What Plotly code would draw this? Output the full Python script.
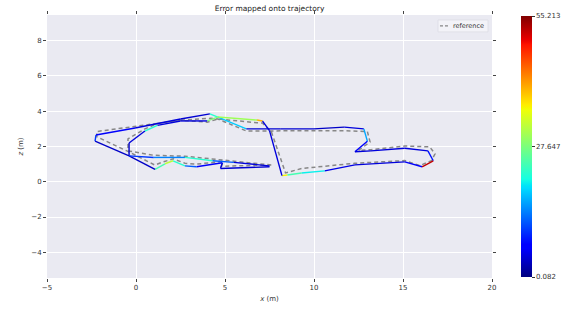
import plotly.graph_objects as go

# ---------------- data ----------------
traj_x = [7.5, 4.75, 4.85, 3.4, 2.75, 2.08, 1.63, 1.07, -0.39, -2.3, -2.25, -0.05, 2.5, 4.15,
          4.6, 6.2, 8.1, 10.0, 11.7, 12.8, 13.0, 12.3, 13.2, 15.1, 16.4, 16.7, 16.07, 15.1,
          12.3, 10.6, 9.3, 8.5, 8.2, 7.5, 7.1, 6.8, 4.6, 4.0, 2.5, 1.2, 0.5, -0.39, -0.39,
          1.0, 2.75, 4.3, 5.5, 7.5]
traj_z = [0.85, 0.75, 1.08, 0.85, 0.9, 1.19, 1.02, 0.7, 1.47, 2.3, 2.65, 3.05, 3.56, 3.85,
          3.67, 3.0, 3.0, 3.0, 3.1, 3.0, 2.3, 1.7, 1.75, 1.9, 1.75, 1.19, 0.85, 1.13,
          0.96, 0.62, 0.5, 0.38, 0.35, 2.9, 3.45, 3.5, 3.67, 3.45, 3.45, 3.2, 2.88, 2.2, 1.47,
          1.38, 1.38, 1.19, 1.1, 0.9]
# error of each segment (segment i goes from point i to point i+1)
seg_error = [4, 4, 6, 12, 22, 32, 24, 3.5, 3.5, 10, 6, 4.5, 4, 22,
             18, 4, 4, 3.5, 4.5, 16, 7, 4.5, 4.5, 4.5, 8, 52, 6,
             4.5, 5, 20, 24, 36, 4.5, 4.5, 40, 30, 28, 4.5, 4.5, 22, 4.5, 3.5,
             10, 14, 22, 12, 4.5]

ref_x = [7.6, 4.8, 4.9, 3.4, 2.75, 2.1, 1.6, 1.05, -0.45, -2.2, -2.2, 0.0, 2.6, 4.2,
         4.6, 6.2, 8.1, 10.0, 11.7, 13.0, 13.15, 12.5, 13.2, 15.1, 16.5, 16.8, 16.6, 15.95,
         15.1, 12.3, 10.6, 9.3, 8.4, 7.6, 7.1, 6.8, 4.6, 4.0, 2.5, 1.2, 0.5, -0.45, -0.45,
         1.0, 2.75, 4.3, 5.5, 7.6]
ref_z = [0.95, 0.88, 1.15, 1.0, 1.05, 1.3, 1.15, 0.95, 1.72, 2.55, 2.85, 3.15, 3.5, 3.6,
         3.56, 2.88, 2.88, 2.88, 2.9, 2.85, 2.26, 1.78, 1.82, 2.03, 1.98, 1.58, 1.2, 0.92,
         1.2, 1.05, 0.9, 0.75, 0.5, 2.85, 3.33, 3.35, 3.56, 3.38, 3.5, 3.3, 3.0, 2.43, 1.75,
         1.5, 1.45, 1.3, 1.15, 0.95]

err_min, err_max = 0.082, 55.213
cbar_ticks = [0.082, 27.647, 55.213]
x_ticks = [-5, 0, 5, 10, 15, 20]
y_ticks = [-4, -2, 0, 2, 4, 6, 8]
legend_label = "reference"

# ---------------- matplotlib "jet" colormap ----------------
_jet = {
    "r": [(0, 0), (0.35, 0), (0.66, 1), (0.89, 1), (1, 0.5)],
    "g": [(0, 0), (0.125, 0), (0.375, 1), (0.64, 1), (0.91, 0), (1, 0)],
    "b": [(0, 0.5), (0.11, 1), (0.34, 1), (0.65, 0), (1, 0)],
}


def _interp(pts, t):
    for (t0, v0), (t1, v1) in zip(pts[:-1], pts[1:]):
        if t0 <= t <= t1:
            return v0 + (v1 - v0) * (t - t0) / (t1 - t0) if t1 > t0 else v1
    return pts[-1][1]


def jet(t):
    t = min(max(t, 0.0), 1.0)
    r, g, b = (_interp(_jet[c], t) for c in "rgb")
    return f"rgb({round(r*255)},{round(g*255)},{round(b*255)})"


stops = sorted({s for c in _jet.values() for s, _ in c} | {i / 20 for i in range(21)})
colorscale = [[s, jet(s)] for s in stops]

REF_COLOR = "rgb(135,135,135)"

fig = go.Figure()

# reference (dashed)
fig.add_trace(go.Scatter(x=ref_x, y=ref_z, mode="lines", name=legend_label,
                         line=dict(color=REF_COLOR, width=1.5, dash="4px,3px"),
                         showlegend=False, hoverinfo="skip"))

# trajectory coloured by error
for i, e in enumerate(seg_error):
    fig.add_trace(go.Scatter(x=traj_x[i:i + 2], y=traj_z[i:i + 2], mode="lines",
                             line=dict(color=jet((e - err_min) / (err_max - err_min)), width=1.4),
                             showlegend=False, hoverinfo="skip"))

# colorbar carrier
fig.add_trace(go.Scatter(x=[None], y=[None], mode="markers", showlegend=False,
                         marker=dict(color=[err_min, err_max], cmin=err_min, cmax=err_max,
                                     colorscale=colorscale, showscale=True,
                                     colorbar=dict(x=1.065, xanchor="left", xpad=0, ypad=0,
                                                   y=0.5, yanchor="middle", len=0.993,
                                                   thickness=11, outlinewidth=0,
                                                   tickvals=cbar_ticks,
                                                   ticktext=[f"{v:.3f}" for v in cbar_ticks],
                                                   ticks="outside", ticklen=3,
                                                   tickcolor="#333", tickfont=dict(size=7, color="#333")))))

axis_common = dict(showgrid=True, gridcolor="white", gridwidth=1, zeroline=False,
                   ticks="outside", ticklen=3, tickcolor="#444", mirror="ticks",
                   showline=False, tickfont=dict(size=7, color="#333"))

# compact matplotlib-like legend box (upper right)
fig.add_shape(type="rect", xref="paper", yref="paper", x0=0.8787, x1=0.991, y0=0.9358, y1=0.981,
              fillcolor="rgba(244,244,248,0.9)", line=dict(color="#dcdce4", width=0.8), layer="above")
fig.add_shape(type="line", xref="paper", yref="paper", x0=0.8831, x1=0.9011, y0=0.9585, y1=0.9585,
              line=dict(color=REF_COLOR, width=1.2, dash="3px,2px"), layer="above")
fig.add_annotation(xref="paper", yref="paper", x=0.9865, y=0.9585, xanchor="right", yanchor="middle",
                   text=legend_label, showarrow=False, font=dict(size=6.5, color="#333"))

fig.update_layout(
    width=576, height=313,
    margin=dict(l=47, r=84, t=15, b=33),
    paper_bgcolor="white", plot_bgcolor="#EAEAF2",
    font=dict(family="DejaVu Sans", size=7, color="#333"),
    title=dict(text="Error mapped onto trajectory", x=0.468, xanchor="center",
               y=0.972, yanchor="middle", font=dict(size=7.5, color="#222")),
    xaxis=dict(range=[-5, 20], tickvals=x_ticks,
               title=dict(text="<i>x</i> (m)", standoff=4, font=dict(size=7)), **axis_common),
    yaxis=dict(range=[-5.46, 9.46], tickvals=y_ticks,
               title=dict(text="<i>z</i> (m)", standoff=6, font=dict(size=7)), **axis_common),
    showlegend=False,
)

fig.write_html("out.html")
